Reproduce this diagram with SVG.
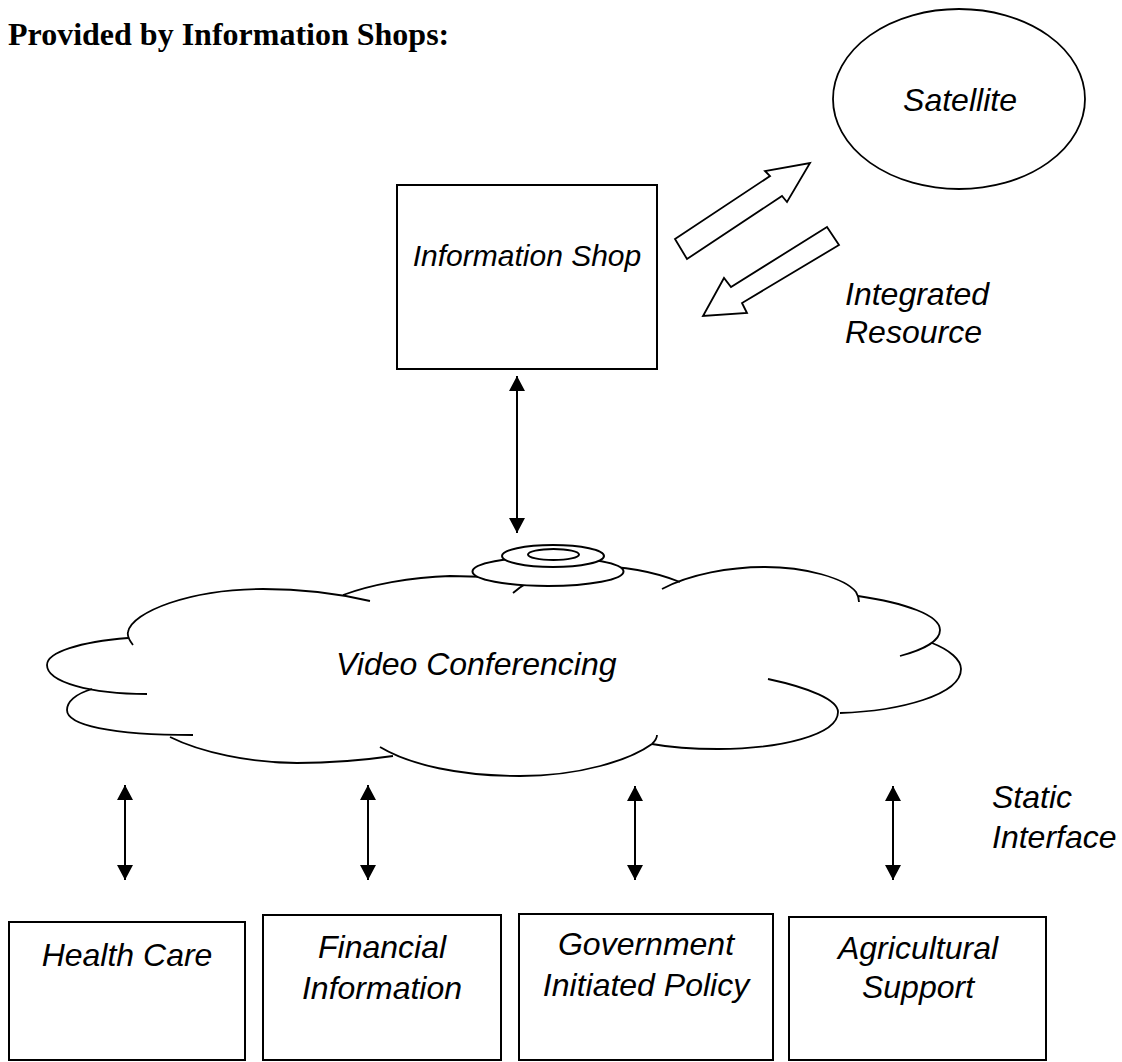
<svg xmlns="http://www.w3.org/2000/svg" width="1122" height="1062" viewBox="0 0 1122 1062">
<style>
.lbl{font-family:"Liberation Sans",Arial,sans-serif;font-style:italic;font-size:32px;fill:#000}
.lbl.sm{font-size:30px}
.ttl{font-family:"Liberation Serif","Times New Roman",serif;font-weight:bold;font-size:32px;fill:#000}
.box{fill:#fff;stroke:#000;stroke-width:2}
.ln{fill:none;stroke:#000;stroke-width:1.8}
.blk{fill:#fff;stroke:#000;stroke-width:1.8;stroke-linejoin:miter}
.con{stroke:#000;stroke-width:2;fill:none}
</style>
<defs>
<marker id="ah" viewBox="0 0 15 16" refX="15" refY="8" markerWidth="15" markerHeight="16" markerUnits="userSpaceOnUse" orient="auto-start-reverse">
<path d="M0,0 L15,8 L0,16 z" fill="#000"/>
</marker>
</defs>
<rect width="1122" height="1062" fill="#fff"/>
<text class="ttl" x="8" y="45">Provided by Information Shops:</text>

<g id="satellite">
<ellipse cx="959" cy="99" rx="126" ry="90" class="ln"/>
<text class="lbl" x="960" y="111" text-anchor="middle">Satellite</text>
</g>

<g id="information-shop">
<rect x="397" y="185" width="260" height="184" class="box"/>
<text class="lbl sm" x="527" y="266" text-anchor="middle">Information Shop</text>
</g>

<g id="video-conferencing">
<path class="ln" d="M133,645 C129,640 127,636 128,632 C132,612 190,589 263,589 C300,589 340,594 370,601"/>
<path class="ln" d="M128,638 C80,642 47,652 47,665 C47,682 90,694 147,694"/>
<path class="ln" d="M92,689 C75,694 67,702 67,710 C67,725 110,735 193,735"/>
<path class="ln" d="M170,737 C200,752 250,763 297,763 C330,763 365,760 393,756"/>
<path class="ln" d="M380,747 C410,765 460,776 520,776 C580,776 630,760 652,744 C655,741 657,738 657,735"/>
<path class="ln" d="M768,679 C810,688 838,700 838,712 C838,735 780,749 718,749 C690,749 668,747 652,744"/>
<path class="ln" d="M932,643 C950,650 961,660 961,669 C961,695 900,711 840,713"/>
<path class="ln" d="M858,596 C905,603 940,615 940,630 C940,641 923,650 900,656"/>
<path class="ln" d="M662,589 C690,574 730,567 765,567 C805,567 845,578 856,592 Q859,597 859,602"/>
<path class="ln" d="M513,593 C530,578 560,566 590,566 C625,566 655,572 680,582"/>
<path class="ln" d="M343,595 C370,585 410,577 450,576 C470,576 490,577 510,579"/>
<ellipse cx="548" cy="571.5" rx="75.5" ry="14.5" class="box" stroke-width="1.8"/>
<ellipse cx="553" cy="556" rx="51" ry="11" class="box" stroke-width="1.8"/>
<ellipse cx="553.5" cy="554.5" rx="25.5" ry="5.5" class="box" stroke-width="1.8"/>
<text class="lbl" x="336" y="675">Video Conferencing</text>
</g>

<g id="health-care">
<rect x="9" y="922" width="236" height="138" class="box"/>
<text class="lbl" x="127" y="966" text-anchor="middle">Health Care</text>
</g>
<g id="financial-information">
<rect x="263" y="915" width="238" height="145" class="box"/>
<text class="lbl" x="382" y="958" text-anchor="middle">Financial</text>
<text class="lbl" x="382" y="999" text-anchor="middle">Information</text>
</g>
<g id="government-initiated-policy">
<rect x="519" y="914" width="254" height="146" class="box"/>
<text class="lbl" x="646" y="955" text-anchor="middle">Government</text>
<text class="lbl" x="646" y="996" text-anchor="middle">Initiated Policy</text>
</g>
<g id="agricultural-support">
<rect x="789" y="917" width="257" height="143" class="box"/>
<text class="lbl" x="918" y="959" text-anchor="middle">Agricultural</text>
<text class="lbl" x="918" y="998" text-anchor="middle">Support</text>
</g>

<g id="labels">
<text class="lbl" x="845" y="305">Integrated</text>
<text class="lbl" x="845" y="343">Resource</text>
<text class="lbl" x="992" y="808">Static</text>
<text class="lbl" x="992" y="848">Interface</text>
</g>

<g id="connectors">
<polygon class="blk" points="675,239 770,176 765,171 810,163 787,202 782,196 687,259"/>
<polygon class="blk" points="827,227 731,287 724,278 703,316 747,313 742,303 839,245"/>
<line class="con" x1="517" y1="376" x2="517" y2="533" marker-start="url(#ah)" marker-end="url(#ah)"/>
<line class="con" x1="125" y1="785" x2="125" y2="880" marker-start="url(#ah)" marker-end="url(#ah)"/>
<line class="con" x1="368" y1="785" x2="368" y2="880" marker-start="url(#ah)" marker-end="url(#ah)"/>
<line class="con" x1="635" y1="786" x2="635" y2="880" marker-start="url(#ah)" marker-end="url(#ah)"/>
<line class="con" x1="893" y1="786" x2="893" y2="880" marker-start="url(#ah)" marker-end="url(#ah)"/>
</g>
</svg>
